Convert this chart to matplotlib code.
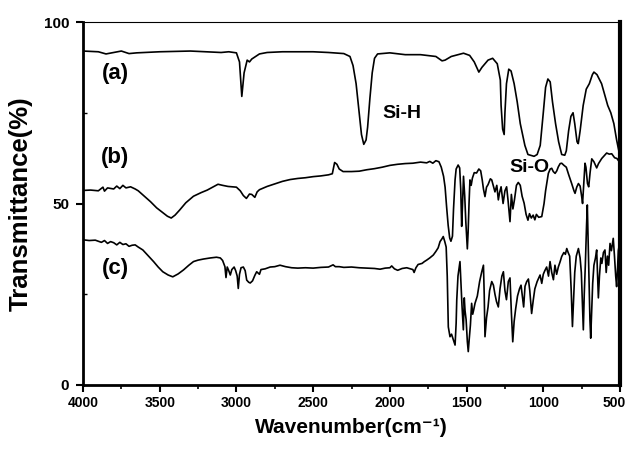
import numpy as np
import matplotlib
matplotlib.use('Agg')
import matplotlib.pyplot as plt
import matplotlib.transforms as mtransforms
from matplotlib.ticker import MultipleLocator

# FTIR spectra: (wavenumber cm-1, transmittance %)
spec_a = [(4000, 92.0), (3900, 91.8), (3850, 91.2), (3800, 91.6), (3750, 92.0), (3700, 91.3),
          (3650, 91.5), (3500, 91.8), (3300, 92.0), (3200, 91.8), (3100, 91.6), (3050, 91.8),
          (3000, 91.5), (2980, 89.0), (2965, 79.5), (2950, 86.0), (2930, 89.5), (2915, 89.0),
          (2900, 89.8), (2850, 91.2), (2800, 91.6), (2700, 91.8), (2500, 91.8), (2400, 91.6),
          (2300, 91.3), (2260, 90.5), (2240, 88.0), (2220, 83.0), (2200, 75.0), (2185, 69.0),
          (2170, 66.3), (2155, 67.5), (2145, 71.0), (2130, 79.0), (2115, 86.0), (2100, 90.0),
          (2080, 91.2), (2000, 91.5), (1900, 91.0), (1800, 91.0), (1700, 90.5), (1660, 89.3),
          (1640, 89.5), (1600, 90.5), (1520, 91.4), (1480, 90.8), (1450, 89.0), (1420, 86.2),
          (1400, 87.5), (1360, 89.5), (1330, 90.0), (1300, 88.5), (1280, 84.0), (1275, 77.0),
          (1265, 70.5), (1255, 69.0), (1250, 75.0), (1240, 83.0), (1225, 87.0), (1210, 86.5),
          (1190, 83.0), (1170, 78.0), (1150, 72.0), (1120, 66.0), (1100, 63.5), (1060, 63.0),
          (1040, 63.5), (1020, 66.0), (1000, 75.0), (985, 82.0), (970, 84.3), (955, 83.5),
          (940, 78.0), (920, 72.0), (900, 67.0), (880, 63.5), (860, 63.3), (850, 64.5),
          (835, 70.0), (820, 74.0), (806, 75.0), (795, 72.0), (780, 67.0), (772, 66.5),
          (760, 70.0), (740, 77.0), (720, 81.5), (700, 83.0), (680, 85.5), (670, 86.2),
          (650, 85.5), (620, 83.0), (600, 80.0), (580, 77.0), (560, 75.0), (540, 72.0),
          (522, 67.5), (510, 65.0), (500, 63.0)]

spec_b = [(4000, 53.6), (3950, 53.7), (3900, 53.5), (3870, 54.5), (3860, 53.4), (3840, 54.3),
          (3800, 54.0), (3780, 54.8), (3760, 54.1), (3740, 55.0), (3720, 54.3), (3690, 54.6),
          (3660, 54.0), (3640, 53.5), (3600, 52.0), (3560, 50.5), (3520, 48.8), (3480, 47.5),
          (3450, 46.5), (3425, 46.0), (3400, 46.8), (3370, 48.2), (3330, 50.2), (3280, 52.0),
          (3230, 53.0), (3190, 53.7), (3150, 54.6), (3120, 55.3), (3090, 55.0), (3055, 54.7),
          (3000, 54.5), (2975, 53.5), (2955, 52.2), (2935, 51.4), (2915, 52.6), (2900, 52.5),
          (2880, 51.7), (2865, 53.2), (2850, 53.8), (2800, 54.7), (2750, 55.4), (2700, 56.1),
          (2650, 56.6), (2600, 56.9), (2550, 57.1), (2500, 57.4), (2450, 57.6), (2400, 57.9),
          (2375, 58.2), (2360, 61.3), (2345, 60.8), (2330, 59.5), (2305, 58.8), (2250, 58.8),
          (2200, 58.9), (2150, 59.3), (2100, 59.6), (2050, 60.0), (2000, 60.5), (1950, 60.8),
          (1900, 61.0), (1850, 61.1), (1800, 61.4), (1760, 61.2), (1740, 61.6), (1720, 61.1),
          (1700, 61.8), (1680, 61.5), (1665, 60.0), (1650, 57.5), (1640, 54.5), (1630, 49.0),
          (1620, 44.0), (1610, 40.5), (1602, 39.6), (1592, 41.0), (1585, 48.5), (1575, 56.5),
          (1568, 59.5), (1555, 60.6), (1545, 59.8), (1538, 54.0), (1532, 43.7), (1527, 49.0),
          (1520, 57.5), (1512, 52.0), (1505, 45.0), (1500, 41.0), (1495, 37.5), (1490, 42.0),
          (1484, 50.0), (1478, 56.5), (1470, 55.0), (1462, 57.0), (1450, 58.5), (1435, 58.4),
          (1420, 59.5), (1408, 59.0), (1398, 56.5), (1390, 54.0), (1380, 51.9), (1370, 54.5),
          (1360, 55.2), (1345, 56.8), (1336, 56.5), (1325, 54.8), (1315, 53.2), (1303, 55.0),
          (1293, 51.0), (1285, 53.0), (1275, 54.6), (1262, 50.0), (1250, 53.5), (1239, 54.6),
          (1230, 51.0), (1217, 45.0), (1208, 52.5), (1198, 48.5), (1188, 51.0), (1175, 55.0),
          (1163, 55.8), (1150, 55.0), (1138, 52.0), (1125, 50.1), (1112, 47.0), (1100, 45.4),
          (1090, 47.2), (1078, 46.0), (1066, 46.8), (1055, 45.5), (1045, 47.0), (1030, 46.2),
          (1010, 46.4), (995, 50.0), (985, 53.5), (967, 58.3), (955, 59.5), (945, 59.7),
          (935, 58.8), (923, 58.3), (912, 59.0), (902, 60.1), (890, 61.0), (880, 61.1),
          (865, 60.5), (850, 60.0), (835, 58.0), (815, 55.5), (800, 53.5), (793, 52.8),
          (782, 54.5), (771, 55.5), (760, 54.8), (750, 52.0), (744, 50.0), (738, 54.0),
          (728, 61.1), (722, 60.0), (712, 55.5), (704, 54.6), (695, 58.5), (684, 62.3),
          (670, 61.5), (652, 59.8), (640, 61.0), (619, 62.4), (600, 63.3), (587, 63.9),
          (570, 63.6), (554, 63.7), (535, 62.6), (520, 62.4), (510, 61.8), (500, 62.5)]

spec_c = [(4000, 40.0), (3960, 39.8), (3920, 39.9), (3880, 39.3), (3860, 39.8), (3840, 39.0),
          (3820, 39.5), (3800, 39.2), (3780, 38.6), (3760, 39.3), (3740, 38.7), (3720, 38.9),
          (3700, 38.2), (3680, 38.5), (3660, 38.6), (3640, 38.0), (3610, 37.2), (3575, 35.6),
          (3540, 34.0), (3510, 32.5), (3480, 31.2), (3445, 30.3), (3415, 29.8), (3380, 30.6),
          (3345, 31.7), (3310, 33.0), (3280, 34.0), (3250, 34.4), (3215, 34.7), (3170, 35.0),
          (3130, 35.2), (3105, 35.0), (3090, 34.3), (3075, 32.6), (3068, 29.6), (3060, 32.5),
          (3050, 31.5), (3040, 30.3), (3030, 31.8), (3015, 32.5), (3005, 31.5), (2995, 30.0),
          (2988, 26.6), (2980, 30.5), (2970, 32.3), (2955, 32.5), (2943, 31.5), (2933, 28.9),
          (2920, 28.3), (2910, 28.1), (2895, 28.7), (2880, 30.2), (2868, 31.2), (2850, 30.5),
          (2840, 31.8), (2813, 32.0), (2780, 32.5), (2750, 32.6), (2716, 33.0), (2680, 32.6),
          (2640, 32.3), (2600, 32.2), (2550, 32.3), (2500, 32.2), (2450, 32.4), (2400, 32.5),
          (2370, 33.1), (2355, 32.6), (2330, 32.6), (2300, 32.4), (2250, 32.5), (2200, 32.3),
          (2150, 32.2), (2100, 32.1), (2064, 31.9), (2030, 32.2), (2000, 32.3), (1988, 32.8),
          (1970, 32.0), (1949, 31.6), (1920, 32.1), (1890, 32.3), (1865, 32.0), (1850, 31.8),
          (1842, 31.0), (1830, 32.3), (1816, 33.2), (1790, 33.5), (1775, 34.0), (1760, 34.4),
          (1740, 35.0), (1717, 35.8), (1700, 36.8), (1685, 37.8), (1673, 39.5), (1660, 40.3),
          (1652, 40.9), (1642, 39.5), (1633, 38.0), (1626, 30.0), (1619, 16.0), (1608, 13.3),
          (1598, 14.0), (1586, 12.4), (1575, 11.0), (1568, 17.0), (1564, 23.4), (1556, 30.0),
          (1543, 34.0), (1537, 28.5), (1530, 22.0), (1521, 15.2), (1515, 24.0), (1510, 20.5),
          (1503, 18.0), (1495, 12.0), (1489, 9.2), (1483, 12.5), (1475, 16.5), (1467, 22.5),
          (1460, 19.5), (1452, 21.0), (1445, 22.5), (1430, 24.5), (1415, 28.5), (1401, 31.2),
          (1390, 33.0), (1385, 25.0), (1380, 13.3), (1370, 18.5), (1360, 21.5), (1350, 26.0),
          (1336, 28.5), (1325, 27.5), (1315, 25.0), (1305, 23.0), (1293, 21.5), (1282, 26.5),
          (1270, 30.0), (1260, 31.2), (1250, 26.0), (1240, 23.5), (1228, 28.5), (1217, 29.5),
          (1208, 20.0), (1199, 11.9), (1190, 17.5), (1180, 21.0), (1168, 24.5), (1155, 26.5),
          (1145, 27.5), (1135, 24.0), (1128, 21.5), (1119, 27.2), (1108, 28.5), (1097, 29.2),
          (1088, 26.0), (1076, 19.7), (1065, 23.5), (1055, 26.5), (1040, 28.5), (1021, 30.3),
          (1010, 28.0), (1000, 30.5), (990, 31.5), (978, 32.5), (966, 30.0), (956, 34.0),
          (945, 31.0), (934, 29.0), (924, 33.0), (913, 30.5), (902, 32.5), (890, 34.0),
          (880, 35.4), (866, 36.5), (856, 36.0), (847, 37.6), (838, 36.5), (828, 35.5),
          (818, 26.0), (810, 16.1), (802, 24.0), (795, 31.0), (785, 35.5), (771, 37.6),
          (760, 35.0), (752, 31.0), (745, 22.0), (739, 15.2), (733, 25.0), (726, 33.0),
          (718, 44.0), (713, 49.6), (708, 40.0), (702, 28.0), (696, 18.0), (691, 12.9),
          (685, 20.0), (678, 28.0), (670, 33.0), (660, 35.0), (652, 37.2), (646, 30.0),
          (641, 24.0), (634, 30.0), (625, 35.0), (618, 33.5), (608, 36.5), (598, 37.2),
          (590, 31.0), (582, 35.5), (574, 33.0), (565, 39.0), (556, 37.0), (544, 40.4),
          (536, 35.5), (528, 30.0), (522, 27.1), (515, 33.0), (511, 37.0), (505, 38.5),
          (500, 39.5)]

curve_names = ['(a)', '(b)', '(c)']
name_y = [85.7, 62.8, 32.2]
name_x = 3790
peak_names = ['Si-H', 'Si-O']
peak_x = [1921, 1087]
peak_y = [74.9, 59.8]
x_ticks = [4000, 3500, 3000, 2500, 2000, 1500, 1000, 500]
y_ticks = [0, 50, 100]

plt.rcParams['font.family'] = ['Liberation Sans', 'DejaVu Sans']
plt.rcParams['font.weight'] = 'bold'

fig = plt.figure(figsize=(6.28, 4.49), dpi=100)
ax = fig.add_axes([83 / 628, 1 - 385 / 449, 537 / 628, 363 / 449])

for spec in (spec_a, spec_b, spec_c):
    d = np.array(spec)
    ax.plot(d[:, 0], d[:, 1], color='black', lw=1.2)

for name, y in zip(curve_names, name_y):
    ax.text(name_x, y, name, fontsize=16, fontweight='bold', ha='center', va='center')
for name, x, y in zip(peak_names, peak_x, peak_y):
    ax.text(x, y, name, fontsize=14, fontweight='bold', ha='center', va='center')

ax.set_xlim(4000, 500)
ax.set_ylim(0, 100)
ax.set_xticks(x_ticks)
ax.set_yticks(y_ticks)
ax.xaxis.set_minor_locator(MultipleLocator(250))
ax.yaxis.set_minor_locator(MultipleLocator(25))
ax.tick_params(axis='both', which='major', direction='out', length=5, width=1.5,
               labelsize=10, pad=3)
ax.tick_params(axis='y', which='major', labelsize=11, pad=5)
ax.tick_params(axis='x', which='minor', direction='out', length=3, width=1.2)
ax.tick_params(axis='y', which='minor', direction='in', length=3, width=1)

# the last x label sits on the figure edge; nudge it inward a little
fig.canvas.draw()
last = ax.get_xticklabels()[-1]
last.set_transform(last.get_transform() + mtransforms.ScaledTranslation(-6 / 100, 0, fig.dpi_scale_trans))

ax.spines['left'].set_linewidth(2)
ax.spines['bottom'].set_linewidth(2)
ax.spines['right'].set_linewidth(3)
ax.spines['top'].set_linewidth(0.8)

ax.set_xlabel('Wavenumber(cm⁻¹)', fontsize=15, fontweight='bold', labelpad=6)
ax.set_ylabel('Transmittance(%)', fontsize=18.5, fontweight='bold', labelpad=8)

fig.savefig('out.png', dpi=100)
